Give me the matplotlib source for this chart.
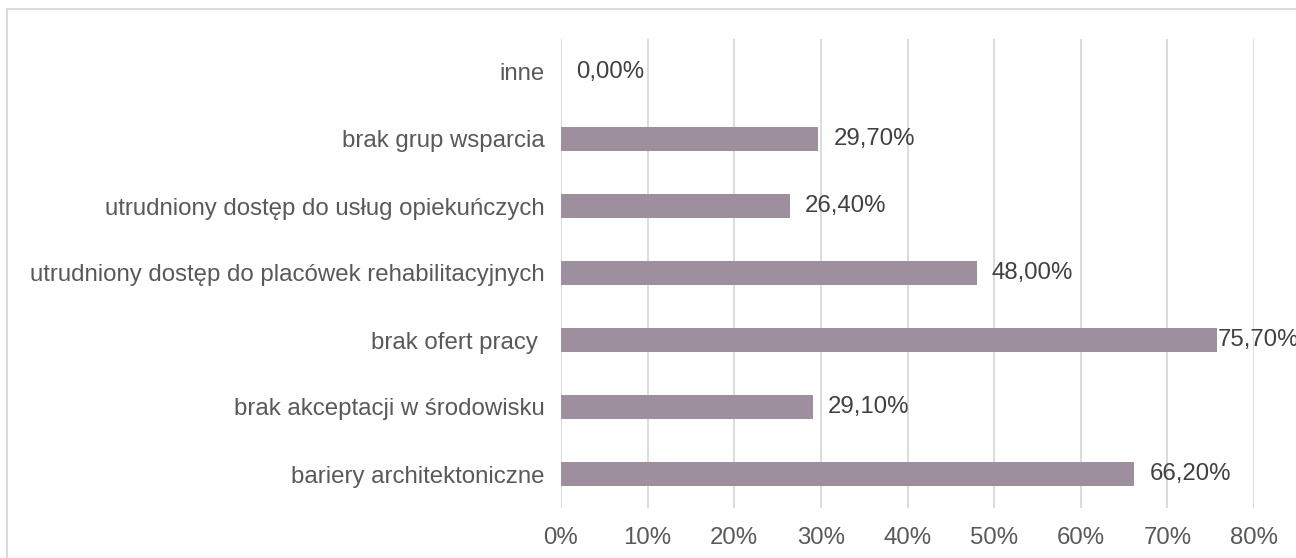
import matplotlib.pyplot as plt
from matplotlib.patches import Rectangle

categories = ['bariery architektoniczne', 'brak akceptacji w środowisku', 'brak ofert pracy ',
              'utrudniony dostęp do placówek rehabilitacyjnych',
              'utrudniony dostęp do usług opiekuńczych', 'brak grup wsparcia', 'inne']
values = [66.2, 29.1, 75.7, 48.0, 26.4, 29.7, 0.0]
ticks = [0, 10, 20, 30, 40, 50, 60, 70, 80]

plt.rcParams['font.family'] = ['Liberation Sans', 'DejaVu Sans']

fig = plt.figure(figsize=(12.96, 5.58), dpi=100)
ax = fig.add_axes([561 / 1296, 1 - 507.5 / 558, 693 / 1296, 469 / 558])

ax.barh(range(len(categories)), values, height=0.36, color='#9e8f9e', zorder=3)

for i, v in enumerate(values):
    off = 1 if v > 75 else 15
    ax.annotate(('%.2f%%' % v).replace('.', ','), (v, i), xytext=(off, 0),
                textcoords='offset pixels', va='center', ha='left',
                fontsize=17.3, color='#404040', annotation_clip=False)

ax.set_xlim(0, 80)
ax.set_ylim(-0.5, len(categories) - 0.5)
ax.set_xticks(ticks)
ax.set_xticklabels(['%d%%' % t for t in ticks])
ax.set_yticks(range(len(categories)))
ax.set_yticklabels(categories)
ax.tick_params(axis='both', length=0, labelsize=17.3, labelcolor='#595959')
ax.tick_params(axis='y', pad=12)
ax.tick_params(axis='x', pad=14)
ax.grid(axis='x', color='#d9d9d9', linewidth=1.3, zorder=0)
for s in ax.spines.values():
    s.set_visible(False)

fig.patches.append(Rectangle((7 / 1296, -0.1), 1.2, 1 - 9 / 558 + 0.1, transform=fig.transFigure,
                             fill=False, edgecolor='#d9d9d9', linewidth=1.3))

fig.savefig('out.png', dpi=100)
